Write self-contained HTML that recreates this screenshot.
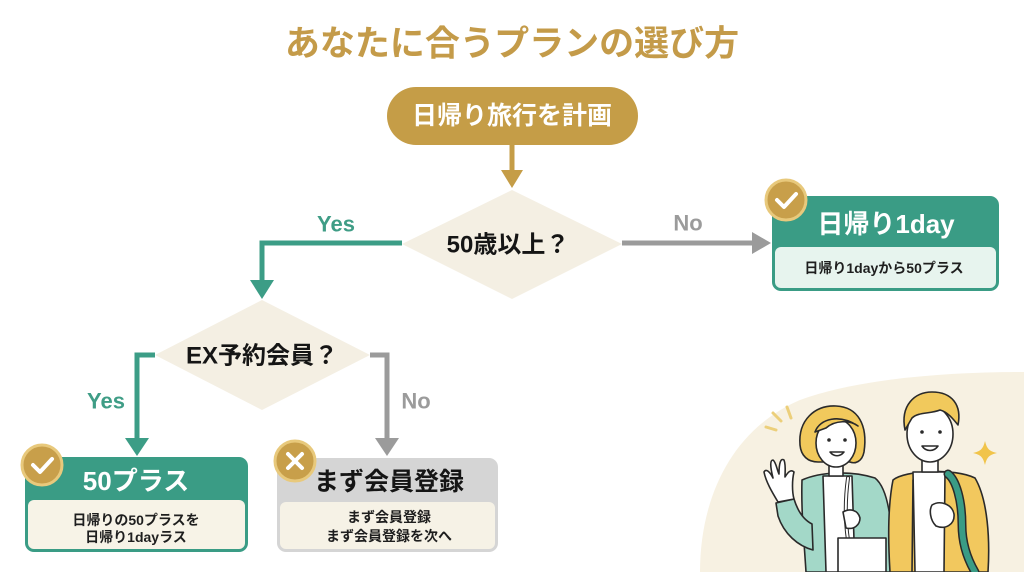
<!DOCTYPE html>
<html>
<head>
<meta charset="utf-8">
<style>
html,body{margin:0;padding:0;background:#fff;}
svg{display:block;}
text{font-family:"Liberation Sans","Noto Sans CJK JP",sans-serif;font-weight:bold;}
</style>
</head>
<body>
<svg width="1024" height="572" viewBox="0 0 1024 572" xmlns="http://www.w3.org/2000/svg">
  <rect width="1024" height="572" fill="#ffffff"/>

  <!-- background blob for illustration -->
  <path d="M700,572 C700,500 730,430 800,400 C860,378 950,372 1024,372 L1024,572 Z" fill="#f7f1e2"/>

  <!-- Title -->
  <text x="512" y="44" text-anchor="middle" dominant-baseline="central" font-size="35" fill="#c49b49">あなたに合うプランの選び方</text>

  <!-- Start pill -->
  <rect x="387" y="87" width="251" height="58" rx="29" fill="#c59d47"/>
  <text x="512" y="116" text-anchor="middle" dominant-baseline="central" font-size="25" fill="#ffffff">日帰り旅行を計画</text>

  <!-- arrow pill -> diamond1 -->
  <line x1="512" y1="145" x2="512" y2="172" stroke="#c59d47" stroke-width="5"/>
  <polygon points="501,170 523,170 512,188" fill="#c59d47"/>

  <!-- Diamond 1 -->
  <polygon points="512,190 622,244 512,299 402,244" fill="#f4efe3"/>
  <text x="508" y="245" text-anchor="middle" dominant-baseline="central" font-size="24" fill="#151515">50歳以上？</text>

  <!-- Yes from diamond1 -->
  <polyline points="402,243 262,243 262,283" fill="none" stroke="#3c9d86" stroke-width="5"/>
  <polygon points="250,280 274,280 262,299" fill="#3c9d86"/>
  <text x="336" y="224" text-anchor="middle" dominant-baseline="central" font-size="22" fill="#3f9d86">Yes</text>

  <!-- No from diamond1 -->
  <line x1="622" y1="243" x2="754" y2="243" stroke="#9b9b9b" stroke-width="5"/>
  <polygon points="752,232 752,254 771,243" fill="#9b9b9b"/>
  <text x="688" y="223" text-anchor="middle" dominant-baseline="central" font-size="22" fill="#9b9b9b">No</text>

  <!-- Box 1day -->
  <rect x="772" y="196" width="227" height="95" rx="9" fill="#3a9c85"/>
  <rect x="775" y="247" width="221" height="41" rx="6" fill="#e7f4ee"/>
  <text x="886" y="224" text-anchor="middle" dominant-baseline="central" font-size="26" fill="#ffffff">日帰り1day</text>
  <text x="884" y="268" text-anchor="middle" dominant-baseline="central" font-size="14" fill="#1e1e1e">日帰り1dayから50プラス</text>
  <circle cx="786" cy="200" r="20" fill="#c89f4a" stroke="#e8c97c" stroke-width="3"/>
  <polyline points="777,200 784,207 796,194" fill="none" stroke="#ffffff" stroke-width="4" stroke-linecap="round" stroke-linejoin="round"/>

  <!-- Diamond 2 -->
  <polygon points="262,300 370,355 262,410 155,355" fill="#f4efe3"/>
  <text x="262" y="356" text-anchor="middle" dominant-baseline="central" font-size="24" fill="#151515">EX予約会員？</text>

  <!-- Yes from diamond2 -->
  <polyline points="155,355 137,355 137,440" fill="none" stroke="#3c9d86" stroke-width="5"/>
  <polygon points="125,438 149,438 137,456" fill="#3c9d86"/>
  <text x="106" y="401" text-anchor="middle" dominant-baseline="central" font-size="22" fill="#3f9d86">Yes</text>

  <!-- No from diamond2 -->
  <polyline points="370,355 387,355 387,440" fill="none" stroke="#9b9b9b" stroke-width="5"/>
  <polygon points="375,438 399,438 387,456" fill="#9b9b9b"/>
  <text x="416" y="401" text-anchor="middle" dominant-baseline="central" font-size="22" fill="#9b9b9b">No</text>

  <!-- Box 50プラス -->
  <rect x="25" y="457" width="223" height="95" rx="9" fill="#3a9c85"/>
  <rect x="28" y="500" width="217" height="49" rx="6" fill="#f7f3e7"/>
  <text x="136" y="481" text-anchor="middle" dominant-baseline="central" font-size="26" fill="#ffffff">50プラス</text>
  <text x="136" y="520" text-anchor="middle" dominant-baseline="central" font-size="14" fill="#1e1e1e">日帰りの50プラスを</text>
  <text x="136" y="537" text-anchor="middle" dominant-baseline="central" font-size="14" fill="#1e1e1e">日帰り1dayラス</text>
  <circle cx="42" cy="465" r="20" fill="#c89f4a" stroke="#e8c97c" stroke-width="3"/>
  <polyline points="33,465 40,472 52,459" fill="none" stroke="#ffffff" stroke-width="4" stroke-linecap="round" stroke-linejoin="round"/>

  <!-- Box まず会員登録 -->
  <rect x="277" y="458" width="221" height="94" rx="9" fill="#d5d5d5"/>
  <rect x="280" y="502" width="215" height="47" rx="6" fill="#f6f2e6"/>
  <text x="389" y="482" text-anchor="middle" dominant-baseline="central" font-size="25" fill="#151515">まず会員登録</text>
  <text x="389" y="517" text-anchor="middle" dominant-baseline="central" font-size="14" fill="#1e1e1e">まず会員登録</text>
  <text x="389" y="536" text-anchor="middle" dominant-baseline="central" font-size="14" fill="#1e1e1e">まず会員登録を次へ</text>
  <circle cx="295" cy="461" r="20" fill="#c89f4a" stroke="#e8c97c" stroke-width="3"/>
  <line x1="288" y1="454" x2="302" y2="468" stroke="#ffffff" stroke-width="4" stroke-linecap="round"/>
  <line x1="302" y1="454" x2="288" y2="468" stroke="#ffffff" stroke-width="4" stroke-linecap="round"/>

  <!-- Illustration -->
  <g stroke="#2a2a2a" stroke-width="1.6" stroke-linejoin="round" stroke-linecap="round">
    <!-- burst lines -->
    <line x1="766" y1="427" x2="776" y2="430" stroke="#eccf7a" stroke-width="3"/>
    <line x1="773" y1="413" x2="781" y2="421" stroke="#eccf7a" stroke-width="3"/>
    <line x1="787" y1="407" x2="791" y2="418" stroke="#eccf7a" stroke-width="3"/>

    <!-- Woman body -->
    <path d="M802,480 C820,472 850,470 875,478 C890,490 893,530 892,572 L806,572 C804,540 801,510 802,480 Z" fill="#a3d8c8"/>
    <path d="M823,476 L852,476 L855,572 L826,572 Z" fill="#ffffff"/>
    <!-- waving arm sleeve -->
    <path d="M776,503 L794,499 C798,512 804,520 812,524 L813,550 C798,546 784,534 778,516 Z" fill="#a3d8c8"/>
    <!-- hand -->
    <path d="M778,502 C772,492 766,482 764,472 C766,468 770,472 773,478 C770,466 770,460 773,460 C776,462 777,470 779,474 C779,462 781,458 784,460 C786,465 785,472 785,477 C788,472 791,469 794,472 C792,480 792,492 794,499 Z" fill="#ffffff"/>
    <!-- tote bag -->
    <path d="M848,478 C845,500 845,520 848,540" fill="none" stroke="#2a2a2a" stroke-width="4"/>
    <path d="M848,478 C845,500 845,520 848,540" fill="none" stroke="#ffffff" stroke-width="2"/>
    <rect x="838" y="538" width="48" height="34" fill="#ffffff"/>
    <path d="M843,512 C850,508 858,510 860,518 C860,525 854,530 846,528 Z" fill="#ffffff"/>
    <!-- neck -->
    <rect x="829" y="462" width="14" height="14" fill="#ffffff"/>
    <!-- hair back -->
    <path d="M800,445 C798,420 815,405 836,406 C858,407 868,425 864,452 C862,462 855,464 850,462 L818,462 C808,462 801,456 800,445 Z" fill="#f1c95c"/>
    <!-- face -->
    <ellipse cx="836" cy="443" rx="20" ry="24" fill="#ffffff"/>
    <path d="M815,432 C820,418 840,414 858,426 C850,420 835,420 826,428 Z" fill="#f1c95c"/>
    <circle cx="829" cy="440" r="1.8" fill="#2a2a2a" stroke="none"/>
    <circle cx="845" cy="440" r="1.8" fill="#2a2a2a" stroke="none"/>
    <path d="M830,452 C834,457 840,457 844,452 Z" fill="#ffffff"/>

    <!-- Man body -->
    <path d="M893,480 C905,470 955,468 975,478 C988,500 990,540 988,572 L890,572 C888,540 888,505 893,480 Z" fill="#f2c85e"/>
    <path d="M913,472 L945,472 L944,572 L915,572 Z" fill="#ffffff"/>
    <line x1="913" y1="480" x2="912" y2="572"/>
    <!-- strap -->
    <path d="M948,474 C956,480 962,500 962,525 C962,545 968,560 975,572" fill="none" stroke="#2a2a2a" stroke-width="9"/>
    <path d="M948,474 C956,480 962,500 962,525 C962,545 968,560 975,572" fill="none" stroke="#3a9c85" stroke-width="6"/>
    <!-- hand -->
    <path d="M932,505 C940,500 952,504 954,514 C955,524 946,530 936,526 C930,520 929,510 932,505 Z" fill="#ffffff"/>
    <!-- neck -->
    <rect x="922" y="456" width="16" height="16" fill="#ffffff"/>
    <!-- face -->
    <ellipse cx="930" cy="434" rx="23" ry="28" fill="#ffffff"/>
    <!-- hair -->
    <path d="M905,430 C900,405 915,392 932,392 C952,392 962,405 958,425 C954,420 948,412 940,410 C930,414 918,412 912,418 Z" fill="#f1c95c"/>
    <circle cx="922" cy="432" r="1.8" fill="#2a2a2a" stroke="none"/>
    <circle cx="940" cy="432" r="1.8" fill="#2a2a2a" stroke="none"/>
    <path d="M922,446 C926,452 934,452 938,446 Z" fill="#ffffff"/>
  </g>
  <!-- sparkle -->
  <path d="M985,441 C987,449 989,451 997,453 C989,455 987,457 985,465 C983,457 981,455 973,453 C981,451 983,449 985,441 Z" fill="#f1c44a"/>
</svg>
</body>
</html>
